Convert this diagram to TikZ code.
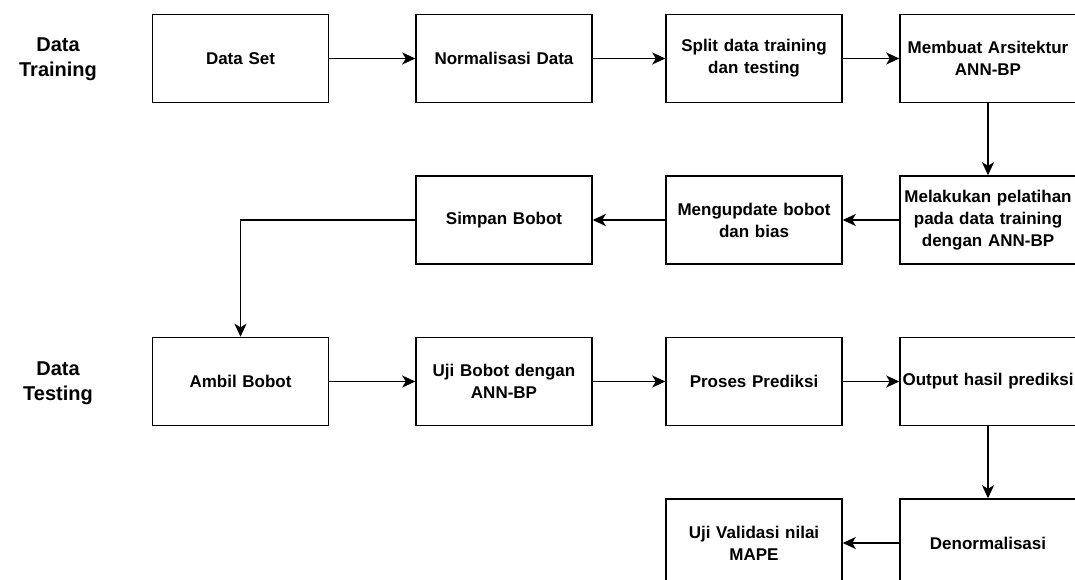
\documentclass[tikz,border=0pt]{standalone}
\usepackage{fontspec}
\setmainfont{Liberation Sans}
\usetikzlibrary{arrows.meta}

\begin{document}
\begin{tikzpicture}[x=1pt, y=-1pt, font=\fontsize{17}{22}\selectfont\bfseries,
    box/.style={draw, line width=1.5pt, minimum width=176pt, minimum height=88pt, text width=176pt, align=center, inner sep=0pt},
    flow/.style={line width=1.4pt, -{Stealth[length=13pt, width=12pt, inset=3.5pt]}},
    side/.style={font=\fontsize{20}{25}\selectfont\bfseries, align=center}]
            \useasboundingbox (0,0) rectangle (1075,580);
            \clip (0,0) rectangle (1075,580);
            \fill[white] (0,0) rectangle (1075,580);

            % Nodes
            \node[side] (lblTrain) at (58,59) {Data\\Training};
            \node[side] (lblTest) at (58,383) {Data\\Testing};

            \node[box] (dataset) at (240.5,58.5) {Data Set};
            \node[box] (norm) at (504,58.5) {Normalisasi Data};
            \node[box] (split) at (754,58.5) {Split data training\\dan testing};
            \node[box] (arsitektur) at (988,58.5) {Membuat Arsitektur\\ANN-BP};
            \node[box] (pelatihan) at (988,220) {Melakukan pelatihan\\pada data training\\dengan ANN-BP};
            \node[box] (update) at (754,220) {Mengupdate bobot\\dan bias};
            \node[box] (simpan) at (504,220) {Simpan Bobot};
            \node[box] (ambil) at (240.5,381.5) {Ambil Bobot};
            \node[box] (uji) at (504,381.5) {Uji Bobot dengan\\ANN-BP};
            \node[box] (prediksi) at (754,381.5) {Proses Prediksi};
            \node[box] (output) at (988,381.5) {Output hasil prediksi};
            \node[box] (denorm) at (988,543) {Denormalisasi};
            \node[box] (mape) at (754,543) {Uji Validasi nilai\\MAPE};

            % Lines
            \draw[flow] (dataset) -- (norm);
            \draw[flow] (norm) -- (split);
            \draw[flow] (split) -- (arsitektur);
            \draw[flow] (arsitektur) -- (pelatihan);
            \draw[flow] (pelatihan) -- (update);
            \draw[flow] (update) -- (simpan);
            \draw[flow] (simpan.west) -| (ambil.north);
            \draw[flow] (ambil) -- (uji);
            \draw[flow] (uji) -- (prediksi);
            \draw[flow] (prediksi) -- (output);
            \draw[flow] (output) -- (denorm);
            \draw[flow] (denorm) -- (mape);
        \end{tikzpicture}
\end{document}
